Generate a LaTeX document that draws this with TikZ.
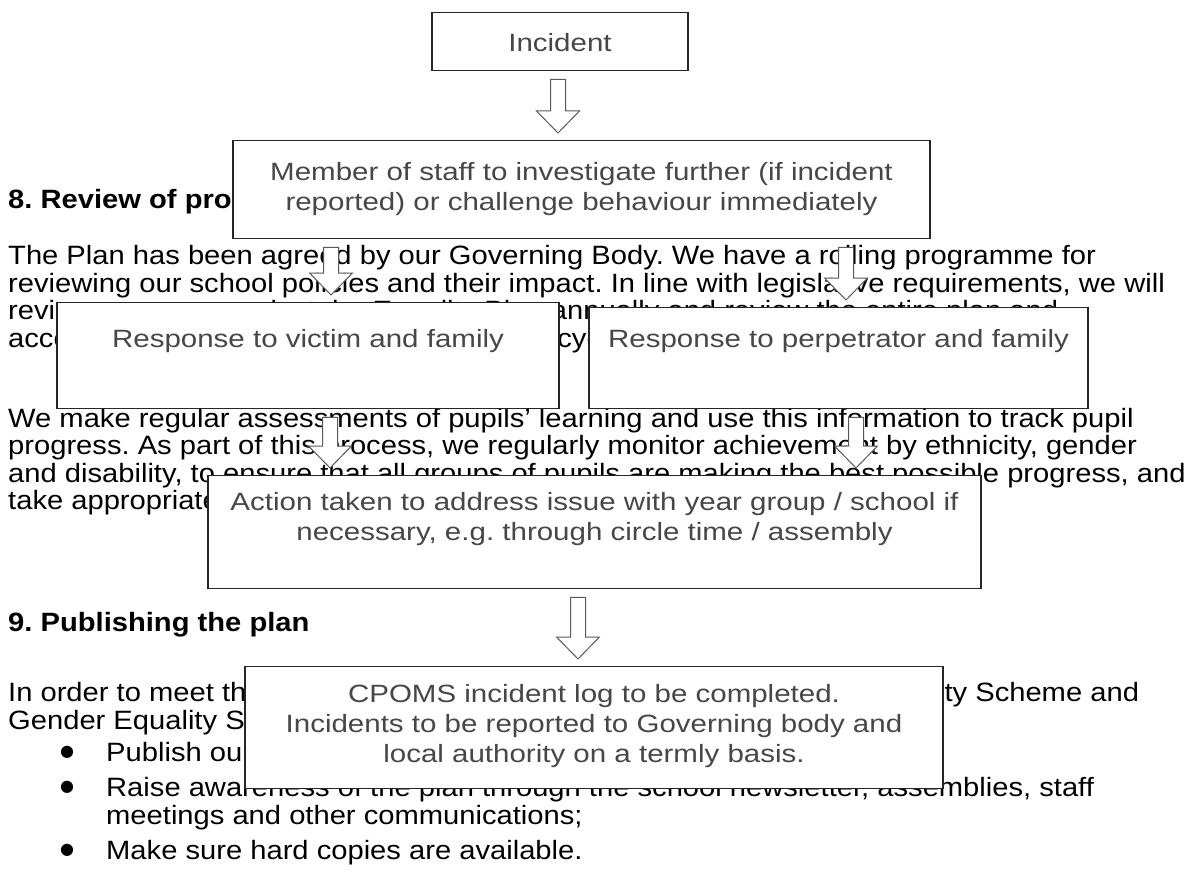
\documentclass[tikz,border=0pt]{standalone}
\usepackage{fontspec}
\setmainfont[FakeStretch=1.1]{Liberation Sans}
\newfontfamily\boxfont[FakeStretch=1.18]{Liberation Sans}
\newfontfamily\bulletfont{DejaVu Sans}
\usetikzlibrary{calc}
\frenchspacing

\tikzset{
  flowbox/.style={draw=black!85, line width=1.4pt, fill=white, text=black!72,
    font=\boxfont\fontsize{25}{30}\selectfont, align=center, inner xsep=0pt, inner ysep=0pt,
    anchor=north},
  arrowline/.style={draw=black!65, line width=1pt, fill=white, line join=miter},
  bodytext/.style={anchor=base west, inner sep=0pt, font=\fontsize{26.5}{27.5}\selectfont},
  headtext/.style={bodytext, font=\fontsize{26.5}{27.5}\selectfont\bfseries},
  bulletmark/.style={anchor=center, inner sep=0pt, font=\bulletfont\fontsize{16}{16}\selectfont},
}

% hollow block arrow, x taken from the first point
\newcommand\hollowdown[2]{%
  \path[arrowline] let \p1=#1, \p2=#2 in
    ({\x1-7.5pt},{\y1-8pt}) -- ({\x1+7.5pt},{\y1-8pt}) -- ({\x1+7.5pt},{\y2+29pt})
    -- ({\x1+21.5pt},{\y2+29pt}) -- ({\x1},{\y2+7pt}) -- ({\x1-21.5pt},{\y2+29pt})
    -- ({\x1-7.5pt},{\y2+29pt}) -- cycle;}

\begin{document}
\begin{tikzpicture}[x=1pt, y=-1pt]
  \fill[white] (0,0) rectangle (1200,872);
  \useasboundingbox (0,0) rectangle (1200,872);

  % Page text behind the chart
  \node[headtext] (h8) at (8,208.5) {8. Review of progress and impact};
  \node[bodytext] (p1a) at (8,264.5) {The Plan has been agreed by our Governing Body. We have a rolling programme for};
  \node[bodytext] (p1b) at (8,292) {reviewing our school policies and their impact. In line with legislative requirements, we will};
  \node[bodytext] (p1c) at (8,319.5) {review progress against the Equality Plan annually and review the entire plan and};
  \node[bodytext] (p1d) at (8,347) {accompanying action plan on a three year cycle.};
  \node[bodytext] (p2a) at (8,427) {We make regular assessments of pupils’ learning and use this information to track pupil};
  \node[bodytext] (p2b) at (8,454.5) {progress. As part of this process, we regularly monitor achievement by ethnicity, gender};
  \node[bodytext] (p2c) at (8,482) {and disability, to ensure that all groups of pupils are making the best possible progress, and};
  \node[bodytext] (p2d) at (8,509.5) {take appropriate action to address any gaps.};
  \node[headtext] (h9) at (8,631.5) {9. Publishing the plan};
  \node[bodytext] (p3a) at (8,701.5) {In order to meet the statutory requirements to publish its Disability Equality Scheme and};
  \node[bodytext] (p3b) at (8,729) {Gender Equality Scheme, we will:};
  \node[bulletmark] (b1) at (67,752) {●};
  \node[bodytext] (l1) at (106,761.5) {Publish our plan on the school website;};
  \node[bulletmark] (b2) at (67,787) {●};
  \node[bodytext] (l2a) at (106,796.5) {Raise awareness of the plan through the school newsletter, assemblies, staff};
  \node[bodytext] (l2b) at (106,824) {meetings and other communications;};
  \node[bulletmark] (b3) at (67,850) {●};
  \node[bodytext] (l3) at (106,859.5) {Make sure hard copies are available.};

  % Flow chart boxes
  \node[flowbox, minimum width=256, text height=38.5pt, text depth=19.5pt] (incident) at (560,12) {Incident};
  \node[flowbox, minimum width=697, text height=70pt, text depth=28pt] (staff) at (581.5,140)
    {Member of staff to investigate further (if incident\\ reported) or challenge behaviour immediately};
  \node[flowbox, minimum width=502, text height=45pt, text depth=61pt] (victim) at (308,302) {Response to victim and family};
  \node[flowbox, minimum width=499, text height=40pt, text depth=61pt] (perp) at (838.5,307) {Response to perpetrator and family};
  \node[flowbox, minimum width=773, text height=64.5pt, text depth=48.5pt] (action) at (594.5,475)
    {Action taken to address issue with year group / school if\\ necessary, e.g. through circle time / assembly};
  \node[flowbox, minimum width=698, text height=95.5pt, text depth=26.5pt] (cpoms) at (594,666)
    {CPOMS incident log to be completed.\\ Incidents to be reported to Governing body and\\ local authority on a termly basis.};

  % Arrows
  \hollowdown{([xshift=-2pt]incident.south)}{(staff.north)}
  \hollowdown{([xshift=-250.5pt]staff.south)}{(victim.north)}
  \hollowdown{([xshift=264.5pt]staff.south)}{(perp.north)}
  \hollowdown{([xshift=22pt]victim.south)}{(action.north)}
  \hollowdown{([xshift=17.5pt]perp.south)}{(action.north)}
  \hollowdown{([xshift=-16.5pt]action.south)}{(cpoms.north)}
\end{tikzpicture}
\end{document}
